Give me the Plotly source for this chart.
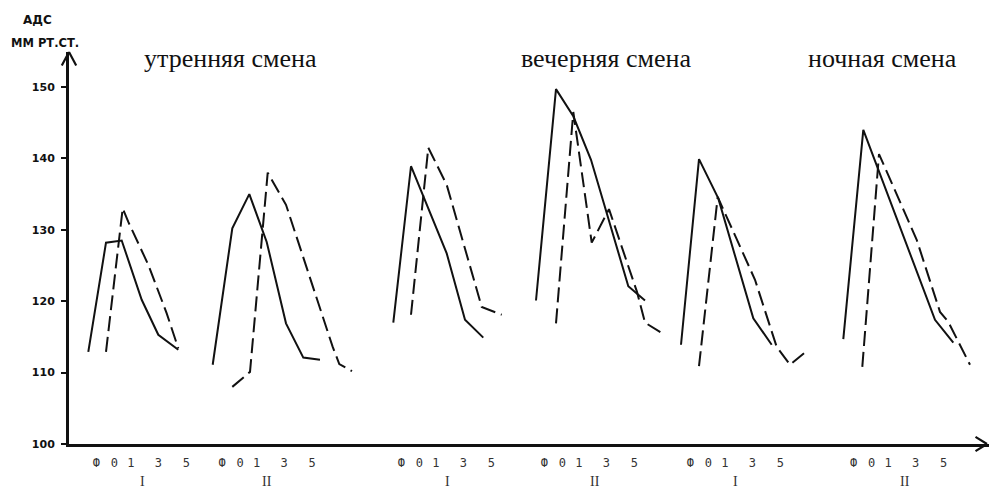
import plotly.graph_objects as go

# ---- data (x in axis units, y in mm Hg) ----
s1_x = [1.93, 3.70, 5.27, 7.27, 8.93, 10.93]
s1_y = [112.9, 128.2, 128.5, 120.2, 115.3, 113.2]
d1_x = [3.70, 5.37, 5.93, 7.93, 9.77, 10.93]
d1_y = [112.9, 133.0, 131.1, 125.1, 118.3, 113.4]

s2_x = [14.37, 16.33, 18.03, 19.77, 21.70, 23.43, 25.10]
s2_y = [111.1, 130.2, 135.0, 128.3, 116.9, 112.1, 111.8]
d2_x = [16.33, 18.10, 19.87, 21.70, 26.37, 27.03, 28.30]
d2_y = [108.0, 110.1, 138.0, 133.5, 113.6, 111.2, 110.2]

s3_x = [32.43, 34.20, 37.77, 39.60, 41.43]
s3_y = [117.0, 138.9, 126.7, 117.4, 114.9]
d3_x = [34.20, 35.93, 37.77, 41.27, 43.27]
d3_y = [118.1, 141.5, 136.3, 119.2, 118.1]

s4_x = [46.70, 48.70, 50.43, 52.20, 55.93, 57.60]
s4_y = [120.1, 149.7, 145.9, 139.8, 122.1, 120.1]
d4_x = [48.70, 50.43, 52.27, 54.00, 56.80, 57.60, 59.43]
d4_y = [116.9, 146.5, 128.2, 132.9, 121.3, 117.0, 115.4]

s5_x = [61.20, 63.00, 64.93, 68.43, 70.27]
s5_y = [113.9, 139.9, 134.4, 117.6, 113.9]
d5_x = [63.00, 64.87, 68.60, 70.77, 72.10, 73.93]
d5_y = [110.9, 134.6, 123.0, 113.6, 111.1, 113.2]

s6_x = [77.43, 79.43, 86.60, 88.43]
s6_y = [114.7, 144.0, 117.4, 114.2]
d6_x = [79.33, 81.00, 84.77, 87.10, 87.93, 90.10]
d6_y = [110.8, 140.6, 128.6, 118.5, 117.1, 111.1]

tick_labels = ["Ф", "0", "1", "3", "5"]
tick_offsets = [-1.8, 0.0, 1.65, 4.4, 7.2]
group_bases = [4.53, 17.10, 35.03, 49.33, 63.93, 80.27]
group_numerals = ["I", "II", "I", "II", "I", "II"]
numeral_x = [7.3, 19.8, 37.8, 52.6, 66.6, 83.6]

shift_titles = ["утренняя смена", "вечерняя смена", "ночная смена"]
shift_title_x = [16.1, 53.7, 81.3]

y_ticks = [100, 110, 120, 130, 140, 150]

# ---- figure ----
fig = go.Figure()
solid_sets = [(s1_x, s1_y), (s2_x, s2_y), (s3_x, s3_y), (s4_x, s4_y), (s5_x, s5_y), (s6_x, s6_y)]
dash_sets = [(d1_x, d1_y), (d2_x, d2_y), (d3_x, d3_y), (d4_x, d4_y), (d5_x, d5_y), (d6_x, d6_y)]
for xs, ys in solid_sets:
    fig.add_trace(go.Scatter(x=xs, y=ys, mode="lines",
                             line=dict(color="#111111", width=2), hoverinfo="skip"))
for xs, ys in dash_sets:
    fig.add_trace(go.Scatter(x=xs, y=ys, mode="lines",
                             line=dict(color="#111111", width=2, dash="15px,6px"), hoverinfo="skip"))

tickvals, ticktext = [], []
for b in group_bases:
    for off, lab in zip(tick_offsets, tick_labels):
        tickvals.append(b + off)
        ticktext.append(lab)

fig.update_layout(
    width=989, height=488,
    margin=dict(l=69, r=0, t=52, b=44),
    paper_bgcolor="white", plot_bgcolor="white",
    showlegend=False,
    xaxis=dict(range=[0, 92], showgrid=False, zeroline=False,
               showline=True, linecolor="#111111", linewidth=3,
               tickmode="array", tickvals=tickvals, ticktext=ticktext,
               ticks="", ticklabelstandoff=6,
               tickfont=dict(family="DejaVu Sans Mono", size=12, color="#333333")),
    yaxis=dict(range=[100, 154.9], showgrid=False, zeroline=False,
               showline=True, linecolor="#111111", linewidth=3,
               tickmode="array", tickvals=y_ticks,
               ticks="outside", ticklen=5, tickwidth=2, tickcolor="#111111",
               ticklabelstandoff=4,
               tickfont=dict(family="DejaVu Sans", size=11, color="#111111", weight="bold")),
)

annotations = []
for t, x in zip(shift_titles, shift_title_x):
    annotations.append(dict(text=t, x=x, y=1, xref="x", yref="paper", yshift=-6,
                            yanchor="middle", xanchor="center", showarrow=False,
                            font=dict(family="Liberation Serif", size=26, color="#111111")))
for t, x in zip(group_numerals, numeral_x):
    annotations.append(dict(text=t, x=x, y=0, xref="x", yref="paper", yshift=-37,
                            yanchor="middle", xanchor="center", showarrow=False,
                            font=dict(family="Liberation Serif", size=14, color="#333333")))
annotations.append(dict(text="АДС", x=0, y=1, xref="paper", yref="paper",
                        xshift=-32, yshift=32, xanchor="center", yanchor="middle",
                        showarrow=False,
                        font=dict(family="DejaVu Sans", size=12, color="#111111", weight="bold")))
annotations.append(dict(text="ММ РТ.СТ.", x=0, y=1, xref="paper", yref="paper",
                        xshift=-24, yshift=9, xanchor="center", yanchor="middle",
                        showarrow=False,
                        font=dict(family="DejaVu Sans", size=11.5, color="#111111", weight="bold")))
# axis arrowheads drawn as thin chevrons (two strokes each)
for wx, wy in [(-8, 15), (8, 15)]:
    annotations.append(dict(text="", x=0, y=154.9, xref="x", yref="y", ax=wx, ay=wy,
                            showarrow=True, arrowhead=0, arrowwidth=2.2,
                            arrowcolor="#111111", standoff=0, startstandoff=0))
for wx, wy in [(-13, -8), (-13, 8)]:
    annotations.append(dict(text="", x=91.8, y=100, xref="x", yref="y", ax=wx, ay=wy,
                            showarrow=True, arrowhead=0, arrowwidth=2.2,
                            arrowcolor="#111111", standoff=0, startstandoff=0))
fig.update_layout(annotations=annotations)

fig.write_html("out.html", config={"displayModeBar": False},
               post_script="document.body.style.margin='0';document.body.style.padding='0';")
